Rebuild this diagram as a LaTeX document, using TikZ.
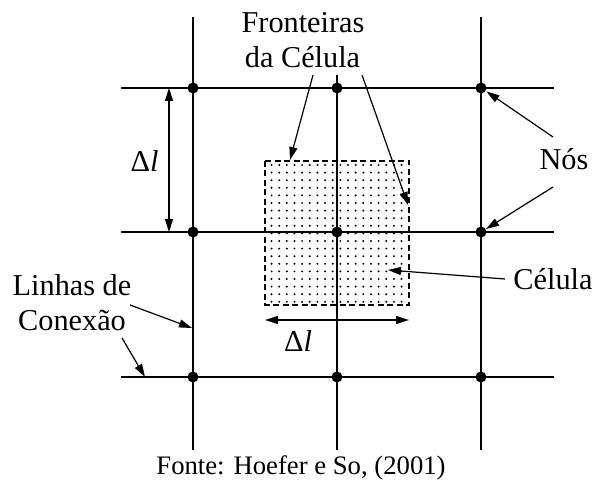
\documentclass[tikz,border=0pt]{standalone}
\usepackage{fontspec}
\setmainfont{Liberation Serif}
\usetikzlibrary{arrows.meta}
\begin{document}
\begin{tikzpicture}[x=1pt,y=-1pt,
  gridline/.style={line width=2pt},
  nodedot/.style={circle,fill=black,inner sep=0pt,minimum size=11pt},
  lbl/.style={font=\fontsize{30.3}{35}\selectfont,inner sep=0pt,anchor=base},
  caption/.style={font=\fontsize{26.7}{31}\selectfont,inner sep=0pt,anchor=base},
  ptr/.style={line width=1.2pt,-{Triangle[length=13pt,width=8pt]}},
  dimline/.style={line width=1.2pt,{Triangle[length=13pt,width=8pt]}-{Triangle[length=13pt,width=8pt]}},
  cellbox/.style={dashed,dash pattern=on 6pt off 3.5pt,line width=1.2pt},
  celldot/.style={fill=black}]
\useasboundingbox (0,0) rectangle (595,481);
% cell dots
\foreach \i in {0,...,17}{
  \foreach \j in {0,...,18}{
    \fill[celldot] (271.5+\i*7.65, 165+\j*7.6) circle (1.1pt);
  }
}
\draw[cellbox] (265,161) rectangle (409,305);
% grid coordinates
\foreach \c/\x in {a/193,b/337,c/481}{
  \foreach \r/\y in {1/88,2/232,3/377}{
    \coordinate (\c\r) at (\x,\y);
  }
}
\coordinate (hl1) at (121,88);  \coordinate (hr1) at (554,88);
\coordinate (hl2) at (121,232); \coordinate (hr2) at (554,232);
\coordinate (hl3) at (121,377); \coordinate (hr3) at (554,377);
\coordinate (vt1) at (193,17);  \coordinate (vb1) at (193,450);
\coordinate (vt2) at (337,75);  \coordinate (vb2) at (337,450);
\coordinate (vt3) at (481,17);  \coordinate (vb3) at (481,450);
\draw[gridline] (hl1) -- (hr1);
\draw[gridline] (hl2) -- (hr2);
\draw[gridline] (hl3) -- (hr3);
\draw[gridline] (vt1) -- (vb1);
\draw[gridline] (vt2) -- (vb2);
\draw[gridline] (vt3) -- (vb3);
\foreach \n in {a1,a2,a3,b1,b2,b3,c1,c2,c3}{
  \node[nodedot] (n\n) at (\n) {};
}
% labels
\node[lbl] (fr1) at (303,33) {Fronteiras};
\node[lbl] (fr2) at (302.5,68) {da Célula};
\node[lbl] (nos) at (564,170) {Nós};
\node[lbl] (cel) at (553,290) {Célula};
\node[lbl] (lin1) at (72,296) {Linhas de};
\node[lbl] (lin2) at (72,331) {Conexão};
\node[caption] (fonte) at (301,474) {Fonte: Hoefer e So, (2001)};
\node[lbl] (dl1) at (144.5,172) {Δ\textit{l}};
\node[lbl] (dl2) at (298,352) {Δ\textit{l}};
% dimension arrows
\coordinate (d1t) at (169,88);  \coordinate (d1b) at (169,232);
\coordinate (d2l) at (265,320); \coordinate (d2r) at (409,320);
\draw[dimline] (d1t) -- (d1b);
\draw[dimline] (d2l) -- (d2r);
% pointer arrows
\coordinate (f1s) at (313,75);  \coordinate (f1e) at (290,160);
\coordinate (f2s) at (362,75);  \coordinate (f2e) at (408,205);
\draw[ptr] (f1s) -- (f1e);
\draw[ptr] (f2s) -- (f2e);
\coordinate (n1s) at (553,137); \coordinate (n2s) at (553,187);
\draw[ptr] (n1s) -- (486.5,91.5);
\draw[ptr] (n2s) -- (486,229);
\coordinate (cs) at (505,279); \coordinate (ce) at (388,270);
\draw[ptr] (cs) -- (ce);
\coordinate (l1s) at (130,305); \coordinate (l1e) at (192,328);
\coordinate (l2s) at (122,338); \coordinate (l2e) at (145,377);
\draw[ptr] (l1s) -- (l1e);
\draw[ptr] (l2s) -- (l2e);
\end{tikzpicture}
\end{document}
